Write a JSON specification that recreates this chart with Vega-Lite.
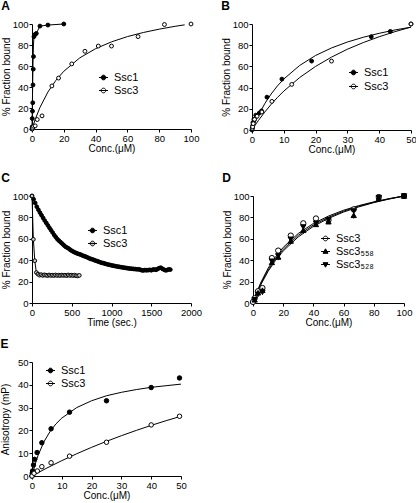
{
"$schema":"https://vega.github.io/schema/vega-lite/v6.json",
"background":"white",
"padding":{"left":0,"top":0,"right":0,"bottom":0},
"config":{
 "font":"Liberation Sans",
 "view":{"stroke":null},
 "axis":{"grid":false,"domainColor":"black","tickColor":"black","labelColor":"black","titleColor":"black","labelFontSize":9.5,"titleFontSize":10,"titleFontWeight":"normal","tickSize":3,"labelPadding":1,"titlePadding":1,"labelFont":"Liberation Sans","titleFont":"Liberation Sans","labelFlush":false,"labelOverlap":false,"labelBound":false,"format":"d"},
 "title":{"fontSize":12,"fontWeight":"bold","anchor":"start","frame":"bounds","color":"black","offset":6,"font":"Liberation Sans"},
 "legend":{"labelFont":"Liberation Sans","labelFontSize":11,"labelColor":"black","symbolSize":81,"symbolStrokeColor":"black","symbolStrokeWidth":1,"rowPadding":1,"labelOffset":5,"padding":0,"title":null,"orient":"none","symbolType":"M-1,0H1M0.52,0A0.52,0.52,0,1,1,-0.52,0A0.52,0.52,0,1,1,0.52,0Z"}
},
"datasets":{
 "A_pts":[
  {"series":"Ssc1","x":0,"y":0},{"series":"Ssc1","x":0.08,"y":2},{"series":"Ssc1","x":0.16,"y":10},{"series":"Ssc1","x":0.31,"y":17},{"series":"Ssc1","x":0.47,"y":25},{"series":"Ssc1","x":0.63,"y":42},{"series":"Ssc1","x":0.78,"y":57},{"series":"Ssc1","x":0.94,"y":69},{"series":"Ssc1","x":1.25,"y":88},{"series":"Ssc1","x":1.9,"y":90},{"series":"Ssc1","x":2.7,"y":91},{"series":"Ssc1","x":5,"y":98},{"series":"Ssc1","x":10,"y":99},{"series":"Ssc1","x":20,"y":100},
  {"series":"Ssc3","x":0.2,"y":0},{"series":"Ssc3","x":0.5,"y":1},{"series":"Ssc3","x":1,"y":2.5},{"series":"Ssc3","x":2,"y":3},{"series":"Ssc3","x":3.3,"y":9},{"series":"Ssc3","x":6.3,"y":12.5},{"series":"Ssc3","x":12.5,"y":41},{"series":"Ssc3","x":16.7,"y":48.5},{"series":"Ssc3","x":25,"y":62},{"series":"Ssc3","x":33.3,"y":74},{"series":"Ssc3","x":41.7,"y":79},{"series":"Ssc3","x":50,"y":79},{"series":"Ssc3","x":66.7,"y":88},{"series":"Ssc3","x":83.3,"y":99.5},{"series":"Ssc3","x":100,"y":100}
 ],
 "A_fit":[
  {"series":"Ssc1","x":0,"y":0},{"series":"Ssc1","x":0.3,"y":30},{"series":"Ssc1","x":0.6,"y":60},{"series":"Ssc1","x":0.9,"y":80},{"series":"Ssc1","x":1.3,"y":89},{"series":"Ssc1","x":2.7,"y":91},{"series":"Ssc1","x":5,"y":98},{"series":"Ssc1","x":10,"y":99},{"series":"Ssc1","x":20,"y":100},
  {"series":"Ssc3","x":0,"y":0},{"series":"Ssc3","x":2,"y":9.1},{"series":"Ssc3","x":5,"y":20.5},{"series":"Ssc3","x":10,"y":35.2},{"series":"Ssc3","x":15,"y":46.3},{"series":"Ssc3","x":20,"y":55},{"series":"Ssc3","x":30,"y":67.7},{"series":"Ssc3","x":40,"y":76.5},{"series":"Ssc3","x":50,"y":83},{"series":"Ssc3","x":60,"y":88},{"series":"Ssc3","x":70,"y":91.9},{"series":"Ssc3","x":80,"y":95.1},{"series":"Ssc3","x":90,"y":97.8},{"series":"Ssc3","x":96,"y":99.2}
 ],
 "B_pts":[
  {"series":"Ssc1","x":0,"y":0},{"series":"Ssc1","x":0.1,"y":2},{"series":"Ssc1","x":0.2,"y":4},{"series":"Ssc1","x":0.3,"y":7},{"series":"Ssc1","x":0.6,"y":10},{"series":"Ssc1","x":1.2,"y":14},{"series":"Ssc1","x":2.3,"y":16},{"series":"Ssc1","x":3,"y":18},{"series":"Ssc1","x":4.7,"y":31},{"series":"Ssc1","x":9.4,"y":48},{"series":"Ssc1","x":18.75,"y":65},{"series":"Ssc1","x":37.5,"y":88},{"series":"Ssc1","x":43.5,"y":93},{"series":"Ssc1","x":50,"y":100},
  {"series":"Ssc3","x":0.1,"y":1.5},{"series":"Ssc3","x":0.2,"y":3},{"series":"Ssc3","x":0.4,"y":6},{"series":"Ssc3","x":0.8,"y":10},{"series":"Ssc3","x":1.6,"y":13},{"series":"Ssc3","x":3.1,"y":17},{"series":"Ssc3","x":6.25,"y":27},{"series":"Ssc3","x":12.5,"y":43},{"series":"Ssc3","x":25,"y":65},{"series":"Ssc3","x":50,"y":100}
 ],
 "B_fit":[
  {"series":"Ssc1","x":0,"y":0},{"series":"Ssc1","x":1,"y":7.2},{"series":"Ssc1","x":2,"y":13.7},{"series":"Ssc1","x":4,"y":24.8},{"series":"Ssc1","x":6,"y":33.9},{"series":"Ssc1","x":8,"y":41.6},{"series":"Ssc1","x":10,"y":48.1},{"series":"Ssc1","x":15,"y":60.9},{"series":"Ssc1","x":20,"y":70.3},{"series":"Ssc1","x":25,"y":77.4},{"series":"Ssc1","x":30,"y":83},{"series":"Ssc1","x":35,"y":87.5},{"series":"Ssc1","x":40,"y":91.2},{"series":"Ssc1","x":45,"y":94.4},{"series":"Ssc1","x":50,"y":97},
  {"series":"Ssc3","x":0,"y":0},{"series":"Ssc3","x":1,"y":4.6},{"series":"Ssc3","x":2,"y":8.9},{"series":"Ssc3","x":4,"y":16.9},{"series":"Ssc3","x":6,"y":24.1},{"series":"Ssc3","x":8,"y":30.7},{"series":"Ssc3","x":10,"y":36.7},{"series":"Ssc3","x":15,"y":49.5},{"series":"Ssc3","x":20,"y":60},{"series":"Ssc3","x":25,"y":68.75},{"series":"Ssc3","x":30,"y":76.2},{"series":"Ssc3","x":35,"y":82.5},{"series":"Ssc3","x":40,"y":88},{"series":"Ssc3","x":45,"y":92.8},{"series":"Ssc3","x":50,"y":97.1}
 ],
 "C_pts":[
  {"series":"Ssc1","x":0,"y":100},{"series":"Ssc1","x":20,"y":97},{"series":"Ssc1","x":40,"y":93.5},{"series":"Ssc1","x":60,"y":90},{"series":"Ssc1","x":80,"y":87.2},{"series":"Ssc1","x":100,"y":84.5},{"series":"Ssc1","x":120,"y":82},{"series":"Ssc1","x":140,"y":79.5},{"series":"Ssc1","x":160,"y":77},{"series":"Ssc1","x":180,"y":74.8},{"series":"Ssc1","x":200,"y":72.5},{"series":"Ssc1","x":220,"y":70.2},{"series":"Ssc1","x":240,"y":68},{"series":"Ssc1","x":260,"y":65.8},{"series":"Ssc1","x":280,"y":63.5},{"series":"Ssc1","x":300,"y":61.5},{"series":"Ssc1","x":320,"y":59.6},{"series":"Ssc1","x":340,"y":58.2},{"series":"Ssc1","x":360,"y":56.8},{"series":"Ssc1","x":380,"y":55.5},{"series":"Ssc1","x":400,"y":54},{"series":"Ssc1","x":420,"y":52.7},{"series":"Ssc1","x":440,"y":51.8},{"series":"Ssc1","x":460,"y":51},{"series":"Ssc1","x":480,"y":49.8},{"series":"Ssc1","x":500,"y":48.8},{"series":"Ssc1","x":520,"y":48},{"series":"Ssc1","x":540,"y":47.2},{"series":"Ssc1","x":560,"y":46.6},{"series":"Ssc1","x":580,"y":46},{"series":"Ssc1","x":600,"y":45.5},{"series":"Ssc1","x":620,"y":45},{"series":"Ssc1","x":640,"y":44.2},{"series":"Ssc1","x":660,"y":43.7},{"series":"Ssc1","x":680,"y":43.2},{"series":"Ssc1","x":700,"y":42.5},{"series":"Ssc1","x":720,"y":41.8},{"series":"Ssc1","x":740,"y":41.2},{"series":"Ssc1","x":760,"y":40.8},{"series":"Ssc1","x":780,"y":40.2},{"series":"Ssc1","x":800,"y":39.6},{"series":"Ssc1","x":820,"y":39.1},{"series":"Ssc1","x":840,"y":38.6},{"series":"Ssc1","x":860,"y":38},{"series":"Ssc1","x":880,"y":37.5},{"series":"Ssc1","x":900,"y":37.2},{"series":"Ssc1","x":920,"y":36.7},{"series":"Ssc1","x":940,"y":36.3},{"series":"Ssc1","x":960,"y":35.9},{"series":"Ssc1","x":980,"y":35.6},{"series":"Ssc1","x":1000,"y":35.2},{"series":"Ssc1","x":1020,"y":34.9},{"series":"Ssc1","x":1040,"y":34.6},{"series":"Ssc1","x":1060,"y":34.3},{"series":"Ssc1","x":1080,"y":34},{"series":"Ssc1","x":1100,"y":33.8},{"series":"Ssc1","x":1120,"y":33.5},{"series":"Ssc1","x":1140,"y":33.2},{"series":"Ssc1","x":1160,"y":33},{"series":"Ssc1","x":1180,"y":32.8},{"series":"Ssc1","x":1200,"y":32.5},{"series":"Ssc1","x":1220,"y":32.3},{"series":"Ssc1","x":1240,"y":32.1},{"series":"Ssc1","x":1260,"y":32},{"series":"Ssc1","x":1280,"y":31.8},{"series":"Ssc1","x":1300,"y":31.7},{"series":"Ssc1","x":1320,"y":31.5},{"series":"Ssc1","x":1340,"y":31.5},{"series":"Ssc1","x":1360,"y":31.2},{"series":"Ssc1","x":1380,"y":30.6},{"series":"Ssc1","x":1400,"y":30.4},{"series":"Ssc1","x":1420,"y":30.8},{"series":"Ssc1","x":1440,"y":30.6},{"series":"Ssc1","x":1460,"y":30.7},{"series":"Ssc1","x":1480,"y":31},{"series":"Ssc1","x":1500,"y":30.6},{"series":"Ssc1","x":1520,"y":31.2},{"series":"Ssc1","x":1540,"y":31.4},{"series":"Ssc1","x":1560,"y":31},{"series":"Ssc1","x":1580,"y":31.8},{"series":"Ssc1","x":1600,"y":32.6},{"series":"Ssc1","x":1620,"y":33},{"series":"Ssc1","x":1640,"y":32},{"series":"Ssc1","x":1660,"y":31.2},{"series":"Ssc1","x":1680,"y":30.5},{"series":"Ssc1","x":1700,"y":30.8},{"series":"Ssc1","x":1720,"y":31.5},{"series":"Ssc1","x":1740,"y":31.2},
  {"series":"Ssc3","x":0,"y":100},{"series":"Ssc3","x":17,"y":59.5},{"series":"Ssc3","x":35,"y":39.5},{"series":"Ssc3","x":55,"y":28.5},{"series":"Ssc3","x":75,"y":27},{"series":"Ssc3","x":95,"y":26},{"series":"Ssc3","x":115,"y":26.5},{"series":"Ssc3","x":135,"y":25.8},{"series":"Ssc3","x":155,"y":26.3},{"series":"Ssc3","x":175,"y":26},{"series":"Ssc3","x":195,"y":25.6},{"series":"Ssc3","x":215,"y":26.2},{"series":"Ssc3","x":235,"y":25.8},{"series":"Ssc3","x":255,"y":26},{"series":"Ssc3","x":275,"y":25.7},{"series":"Ssc3","x":295,"y":26.2},{"series":"Ssc3","x":315,"y":25.8},{"series":"Ssc3","x":335,"y":26},{"series":"Ssc3","x":355,"y":25.7},{"series":"Ssc3","x":375,"y":26.1},{"series":"Ssc3","x":395,"y":25.8},{"series":"Ssc3","x":415,"y":26},{"series":"Ssc3","x":435,"y":25.6},{"series":"Ssc3","x":455,"y":26.2},{"series":"Ssc3","x":475,"y":25.8},{"series":"Ssc3","x":495,"y":26},{"series":"Ssc3","x":515,"y":25.7},{"series":"Ssc3","x":535,"y":26},{"series":"Ssc3","x":555,"y":25.5},{"series":"Ssc3","x":575,"y":25.3},{"series":"Ssc3","x":595,"y":25.8}
 ],
 "D_pts":[
  {"series":"Ssc3","x":0,"y":1},{"series":"Ssc3","x":1.1,"y":4.4},{"series":"Ssc3","x":3.3,"y":11},{"series":"Ssc3","x":6.25,"y":14},{"series":"Ssc3","x":12.5,"y":42},{"series":"Ssc3","x":16.7,"y":49},{"series":"Ssc3","x":25,"y":63},{"series":"Ssc3","x":33.3,"y":74.5},{"series":"Ssc3","x":41.7,"y":79},{"series":"Ssc3","x":50,"y":77.5},{"series":"Ssc3","x":66.7,"y":87.5},{"series":"Ssc3","x":83.3,"y":99},{"series":"Ssc3","x":100,"y":100},
  {"series":"Ssc3₅₅₈","x":1.1,"y":3},{"series":"Ssc3₅₅₈","x":3.3,"y":9.6},{"series":"Ssc3₅₅₈","x":6.25,"y":12},{"series":"Ssc3₅₅₈","x":12.5,"y":38},{"series":"Ssc3₅₅₈","x":16.7,"y":43},{"series":"Ssc3₅₅₈","x":25,"y":58},{"series":"Ssc3₅₅₈","x":33.3,"y":68},{"series":"Ssc3₅₅₈","x":41.7,"y":73.5},{"series":"Ssc3₅₅₈","x":50,"y":76},{"series":"Ssc3₅₅₈","x":66.7,"y":82},{"series":"Ssc3₅₅₈","x":83.3,"y":98},{"series":"Ssc3₅₅₈","x":100,"y":100},
  {"series":"Ssc3₅₂₈","x":1.1,"y":3},{"series":"Ssc3₅₂₈","x":3.3,"y":8},{"series":"Ssc3₅₂₈","x":6.25,"y":10},{"series":"Ssc3₅₂₈","x":12.5,"y":39},{"series":"Ssc3₅₂₈","x":16.7,"y":44},{"series":"Ssc3₅₂₈","x":25,"y":59.5},{"series":"Ssc3₅₂₈","x":33.3,"y":71},{"series":"Ssc3₅₂₈","x":41.7,"y":74.5},{"series":"Ssc3₅₂₈","x":50,"y":77.5},{"series":"Ssc3₅₂₈","x":66.7,"y":86},{"series":"Ssc3₅₂₈","x":83.3,"y":98.5},{"series":"Ssc3₅₂₈","x":100,"y":100}
 ],
 "D_err":[
  {"x":6.25,"y":8,"y2":15},{"x":25,"y":55,"y2":62},{"x":33.3,"y":65,"y2":72},{"x":66.7,"y":79,"y2":88},{"x":16.7,"y":40,"y2":47}
 ],
 "D_fit":[
  {"series":"a","x":0,"y":0},{"series":"a","x":2,"y":8.1},{"series":"a","x":5,"y":18.6},{"series":"a","x":10,"y":32.5},{"series":"a","x":15,"y":43.3},{"series":"a","x":20,"y":52},{"series":"a","x":30,"y":65},{"series":"a","x":40,"y":74.3},{"series":"a","x":50,"y":81.25},{"series":"a","x":60,"y":86.7},{"series":"a","x":70,"y":91},{"series":"a","x":80,"y":94.5},{"series":"a","x":90,"y":97.5},{"series":"a","x":100,"y":100},
  {"series":"b","x":0,"y":0},{"series":"b","x":2,"y":7.6},{"series":"b","x":5,"y":17.5},{"series":"b","x":10,"y":30.9},{"series":"b","x":15,"y":41.6},{"series":"b","x":20,"y":50.2},{"series":"b","x":30,"y":63.3},{"series":"b","x":40,"y":72.9},{"series":"b","x":50,"y":80.1},{"series":"b","x":60,"y":85.8},{"series":"b","x":70,"y":90.4},{"series":"b","x":80,"y":94.2},{"series":"b","x":90,"y":97.3},{"series":"b","x":100,"y":100},
  {"series":"c","x":0,"y":0},{"series":"c","x":2,"y":7.2},{"series":"c","x":5,"y":16.6},{"series":"c","x":10,"y":29.6},{"series":"c","x":15,"y":40},{"series":"c","x":20,"y":48.6},{"series":"c","x":30,"y":61.8},{"series":"c","x":40,"y":71.6},{"series":"c","x":50,"y":79.1},{"series":"c","x":60,"y":85},{"series":"c","x":70,"y":89.8},{"series":"c","x":80,"y":93.8},{"series":"c","x":90,"y":97.1},{"series":"c","x":100,"y":100}
 ],
 "E_pts":[
  {"series":"Ssc1","x":0,"y":0},{"series":"Ssc1","x":0.1,"y":1.2},{"series":"Ssc1","x":0.2,"y":2.2},{"series":"Ssc1","x":0.5,"y":4.8},{"series":"Ssc1","x":0.9,"y":7.3},{"series":"Ssc1","x":1.7,"y":10.3},{"series":"Ssc1","x":3.3,"y":14.6},{"series":"Ssc1","x":6.4,"y":20.7},{"series":"Ssc1","x":12.6,"y":28},{"series":"Ssc1","x":25,"y":33},{"series":"Ssc1","x":40,"y":38.8},{"series":"Ssc1","x":49.5,"y":43},
  {"series":"Ssc3","x":0,"y":0},{"series":"Ssc3","x":0.7,"y":1.2},{"series":"Ssc3","x":1.8,"y":2.2},{"series":"Ssc3","x":3.3,"y":4.1},{"series":"Ssc3","x":6.4,"y":5.8},{"series":"Ssc3","x":12.6,"y":8.7},{"series":"Ssc3","x":25,"y":14.8},{"series":"Ssc3","x":40,"y":22.4},{"series":"Ssc3","x":49.5,"y":26.2}
 ],
 "E_fit":[
  {"series":"Ssc1","x":0,"y":0},{"series":"Ssc1","x":1,"y":4.9},{"series":"Ssc1","x":2,"y":8.9},{"series":"Ssc1","x":4,"y":15},{"series":"Ssc1","x":6,"y":19.4},{"series":"Ssc1","x":8,"y":22.8},{"series":"Ssc1","x":10,"y":25.4},{"series":"Ssc1","x":15,"y":30},{"series":"Ssc1","x":20,"y":33},{"series":"Ssc1","x":25,"y":35.2},{"series":"Ssc1","x":30,"y":36.7},{"series":"Ssc1","x":35,"y":37.9},{"series":"Ssc1","x":40,"y":38.9},{"series":"Ssc1","x":45,"y":39.6},{"series":"Ssc1","x":50,"y":40.3},
  {"series":"Ssc3","x":0,"y":0},{"series":"Ssc3","x":2,"y":1.43},{"series":"Ssc3","x":5,"y":3.49},{"series":"Ssc3","x":10,"y":6.73},{"series":"Ssc3","x":15,"y":9.75},{"series":"Ssc3","x":20,"y":12.57},{"series":"Ssc3","x":25,"y":15.21},{"series":"Ssc3","x":30,"y":17.68},{"series":"Ssc3","x":35,"y":20},{"series":"Ssc3","x":40,"y":22.2},{"series":"Ssc3","x":45,"y":24.26},{"series":"Ssc3","x":50,"y":26.2}
 ]
},
"vconcat":[
 {"vconcat":[
 {"hconcat":[
  {"title":{"text":"A"},"width":159,"height":105,
   "encoding":{"x":{"field":"x","type":"quantitative","scale":{"domain":[0,100],"nice":false},"axis":{"values":[0,20,40,60,80,100],"title":"Conc.(μM)"}},
      "y":{"field":"y","type":"quantitative","scale":{"domain":[0,100],"nice":false},"axis":{"values":[0,20,40,60,80,100],"title":"% Fraction bound"}}},
   "layer":[
    {"data":{"name":"A_fit"},"mark":{"type":"line","color":"black","strokeWidth":1},"encoding":{"detail":{"field":"series"}}},
    {"data":{"name":"A_pts"},"mark":{"type":"point","filled":true,"stroke":"black","strokeWidth":1,"size":15,"opacity":1},
     "encoding":{"fill":{"field":"series","type":"nominal","scale":{"domain":["Ssc1","Ssc3"],"range":["black","white"]},
       "legend":{"legendX":66,"legendY":48}}}}
   ]},
  {"title":{"text":"B"},"width":159,"height":106,
   "encoding":{"x":{"field":"x","type":"quantitative","scale":{"domain":[0,50],"nice":false},"axis":{"values":[0,10,20,30,40,50],"title":"Conc.(μM)"}},
      "y":{"field":"y","type":"quantitative","scale":{"domain":[0,100],"nice":false},"axis":{"values":[0,20,40,60,80,100],"title":"% Fraction bound"}}},
   "layer":[
    {"data":{"name":"B_fit"},"mark":{"type":"line","color":"black","strokeWidth":1},"encoding":{"detail":{"field":"series"}}},
    {"data":{"name":"B_pts"},"mark":{"type":"point","filled":true,"stroke":"black","strokeWidth":1,"size":15,"opacity":1},
     "encoding":{"fill":{"field":"series","type":"nominal","scale":{"domain":["Ssc1","Ssc3"],"range":["black","white"]},
       "legend":{"legendX":96,"legendY":43,"rowPadding":2}}}}
   ]}
 ],"spacing":22,"resolve":{"scale":{"fill":"independent","x":"independent","y":"independent"},"legend":{"fill":"independent"}}},
 {"hconcat":[
  {"title":{"text":"C"},"width":159,"height":107,
   "encoding":{"x":{"field":"x","type":"quantitative","scale":{"domain":[0,2000],"nice":false},"axis":{"values":[0,500,1000,1500,2000],"title":"Time (sec.)"}},
      "y":{"field":"y","type":"quantitative","scale":{"domain":[0,100],"nice":false},"axis":{"values":[0,20,40,60,80,100],"title":"% Fraction bound"}}},
   "layer":[
    {"data":{"name":"C_pts"},"mark":{"type":"line","color":"black","strokeWidth":1},"encoding":{"detail":{"field":"series"}}},
    {"data":{"name":"C_pts"},"mark":{"type":"point","filled":true,"stroke":"black","strokeWidth":1,"size":14,"opacity":1},
     "encoding":{"fill":{"field":"series","type":"nominal","scale":{"domain":["Ssc1","Ssc3"],"range":["black","#c8c8c8"]},
       "legend":{"legendX":55,"legendY":29}}}}
   ]},
  {"title":{"text":"D"},"width":151,"height":107,
   "encoding":{"x":{"field":"x","type":"quantitative","scale":{"domain":[0,100],"nice":false},"axis":{"values":[0,20,40,60,80,100],"title":"Conc.(μM)"}},
      "y":{"field":"y","type":"quantitative","scale":{"domain":[0,100],"nice":false},"axis":{"values":[0,20,40,60,80,100],"title":"% Fraction bound"}}},
   "layer":[
    {"data":{"name":"D_fit"},"mark":{"type":"line","color":"black","strokeWidth":1},"encoding":{"detail":{"field":"series"}}},
    {"data":{"name":"D_err"},"mark":{"type":"rule","color":"black","strokeWidth":1},"encoding":{"y2":{"field":"y2"}}},
    {"data":{"name":"D_pts"},"mark":{"type":"point","filled":true,"stroke":"black","strokeWidth":1,"size":28,"opacity":1},
     "encoding":{
      "shape":{"field":"series","type":"nominal","scale":{"domain":["Ssc3","Ssc3₅₅₈","Ssc3₅₂₈"],"range":["circle","triangle-up","triangle-down"]},"legend":null},
      "fill":{"field":"series","type":"nominal","scale":{"domain":["Ssc3","Ssc3₅₅₈","Ssc3₅₂₈"],"range":["white","black","black"]},"legend":null}}},
    {"data":{"name":"D_pts"},"transform":[{"filter":"false"}],"mark":{"type":"point","filled":true,"stroke":"black","strokeWidth":1,"opacity":1},
     "encoding":{"fill":{"field":"series","type":"nominal","scale":{"domain":["Ssc3"],"range":["white"]},"legend":{"legendX":67,"legendY":37}}}},
    {"data":{"name":"D_pts"},"transform":[{"filter":"false"}],"mark":{"type":"point","filled":true,"stroke":"black","strokeWidth":1,"opacity":1},
     "encoding":{"fill":{"field":"series","type":"nominal","scale":{"domain":["Ssc3₅₅₈"],"range":["black"]},"legend":{"legendX":67,"legendY":50,"symbolType":"M-1,0H1M0,-0.6L0.55,0.4L-0.55,0.4Z"}}}},
    {"data":{"name":"D_pts"},"transform":[{"filter":"false"}],"mark":{"type":"point","filled":true,"stroke":"black","strokeWidth":1,"opacity":1},
     "encoding":{"fill":{"field":"series","type":"nominal","scale":{"domain":["Ssc3₅₂₈"],"range":["black"]},"legend":{"legendX":67,"legendY":63,"symbolType":"M-1,0H1M0,0.6L0.55,-0.4L-0.55,-0.4Z"}}}}
   ],
   "resolve":{"scale":{"shape":"independent","fill":"independent"},"legend":{"fill":"independent","shape":"independent"}}}
 ],"spacing":20,"resolve":{"scale":{"fill":"independent","shape":"independent","x":"independent","y":"independent"},"legend":{"fill":"independent","shape":"independent"}}}
 ],"spacing":17,"resolve":{"scale":{"fill":"independent","shape":"independent","x":"independent","y":"independent"},"legend":{"fill":"independent","shape":"independent"}}},
 {"hconcat":[
  {"title":{"text":"E"},"width":149,"height":114,
   "encoding":{"x":{"field":"x","type":"quantitative","scale":{"domain":[0,50],"nice":false},"axis":{"values":[0,10,20,30,40,50],"title":"Conc.(μM)"}},
      "y":{"field":"y","type":"quantitative","scale":{"domain":[0,50],"nice":false},"axis":{"values":[0,10,20,30,40,50],"title":"Anisotropy (mP)","minExtent":20.5}}},
   "layer":[
    {"data":{"name":"E_fit"},"mark":{"type":"line","color":"black","strokeWidth":1},"encoding":{"detail":{"field":"series"}}},
    {"data":{"name":"E_pts"},"mark":{"type":"point","filled":true,"stroke":"black","strokeWidth":1,"size":20,"opacity":1},
     "encoding":{"fill":{"field":"series","type":"nominal","scale":{"domain":["Ssc1","Ssc3"],"range":["black","white"]},
       "legend":{"legendX":13,"legendY":3}}}}
   ]}
 ]}
],
"spacing":10,
"resolve":{"scale":{"fill":"independent","x":"independent","y":"independent","shape":"independent"},"legend":{"fill":"independent","shape":"independent"}}
}
